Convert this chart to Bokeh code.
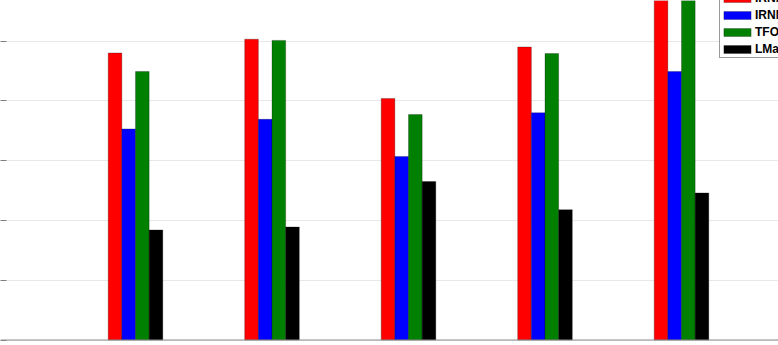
from bokeh.plotting import figure
from bokeh.models import ColumnDataSource, FixedTicker, Legend, LegendItem, Span, Range1d
from bokeh.transform import dodge
from bokeh.embed import file_html
from bokeh.resources import INLINE

# ---- data (y in arbitrary units, 0.1 per gridline) ----
groups = [1, 2, 3, 4, 5]
series_names = ["IRNN-Lp", "IRNN-SCAD", "TFOCS", "LMaFit"]
irnn_lp = [0.480, 0.503, 0.404, 0.490, 0.600]
irnn_scad = [0.353, 0.369, 0.307, 0.380, 0.449]
tfocs = [0.449, 0.501, 0.377, 0.479, 0.620]
lmafit = [0.184, 0.189, 0.265, 0.218, 0.246]
y_ticks = [0.0, 0.1, 0.2, 0.3, 0.4, 0.5]

colors = ["#ff0000", "#0000ff", "#008000", "#000000"]
offsets = [-0.15, -0.05, 0.05, 0.15]
bar_width = 0.1

src = ColumnDataSource(dict(x=groups, s0=irnn_lp, s1=irnn_scad, s2=tfocs, s3=lmafit))

W, H = 778, 345
axis_w = 0  # width taken by the (label-less) y axis
px_per_x = 136.5
x_start = 1 - (135 - axis_w) / px_per_x
x_end = 1 + (W - 135) / px_per_x
px_per_unit = 598.0
base_y = 339.5
y_start = -(H - base_y) / px_per_unit
y_end = base_y / px_per_unit

p = figure(width=W, height=H, output_backend="svg", toolbar_location=None,
           x_range=Range1d(x_start, x_end), y_range=Range1d(y_start, y_end),
           min_border_left=0, min_border_right=0, min_border_top=0, min_border_bottom=0)
p.outline_line_color = None
p.background_fill_color = "white"
p.border_fill_color = "white"

p.xaxis.visible = False
p.xgrid.visible = False

p.yaxis.ticker = FixedTicker(ticks=y_ticks)
p.yaxis.major_label_overrides = {t: "" for t in y_ticks}
p.yaxis.major_label_standoff = 0
p.yaxis.major_tick_out = 0
p.yaxis.major_tick_in = 6
p.yaxis.major_tick_line_color = "#808080"
p.yaxis.minor_tick_line_color = None
p.yaxis.axis_line_color = None
p.ygrid.ticker = FixedTicker(ticks=y_ticks)
p.ygrid.grid_line_color = "#e8e8e8"

renderers = []
for i, col in enumerate(["s0", "s1", "s2", "s3"]):
    r = p.vbar(x=dodge("x", offsets[i]), top=col, width=bar_width, bottom=0, source=src,
               fill_color=colors[i], line_color="black", line_width=0.5, line_alpha=0.5)
    renderers.append(r)

p.add_layout(Span(location=0, dimension="width", line_color="#8c8c8c", line_width=1))

legend = Legend(items=[LegendItem(label=series_names[i], renderers=[renderers[i]]) for i in range(4)],
                location=(719.0 - axis_w, H - 58),
                orientation="vertical",
                glyph_width=34, glyph_height=10, label_height=16, label_standoff=1,
                spacing=1, padding=0, margin=0,
                label_text_font="Liberation Sans", label_text_font_style="bold",
                label_text_font_size="12px", label_text_color="black",
                border_line_color="#333333", border_line_width=0.75,
                background_fill_color="white", background_fill_alpha=1.0)
p.add_layout(legend)

open("out.html", "w").write(file_html(p, INLINE))
